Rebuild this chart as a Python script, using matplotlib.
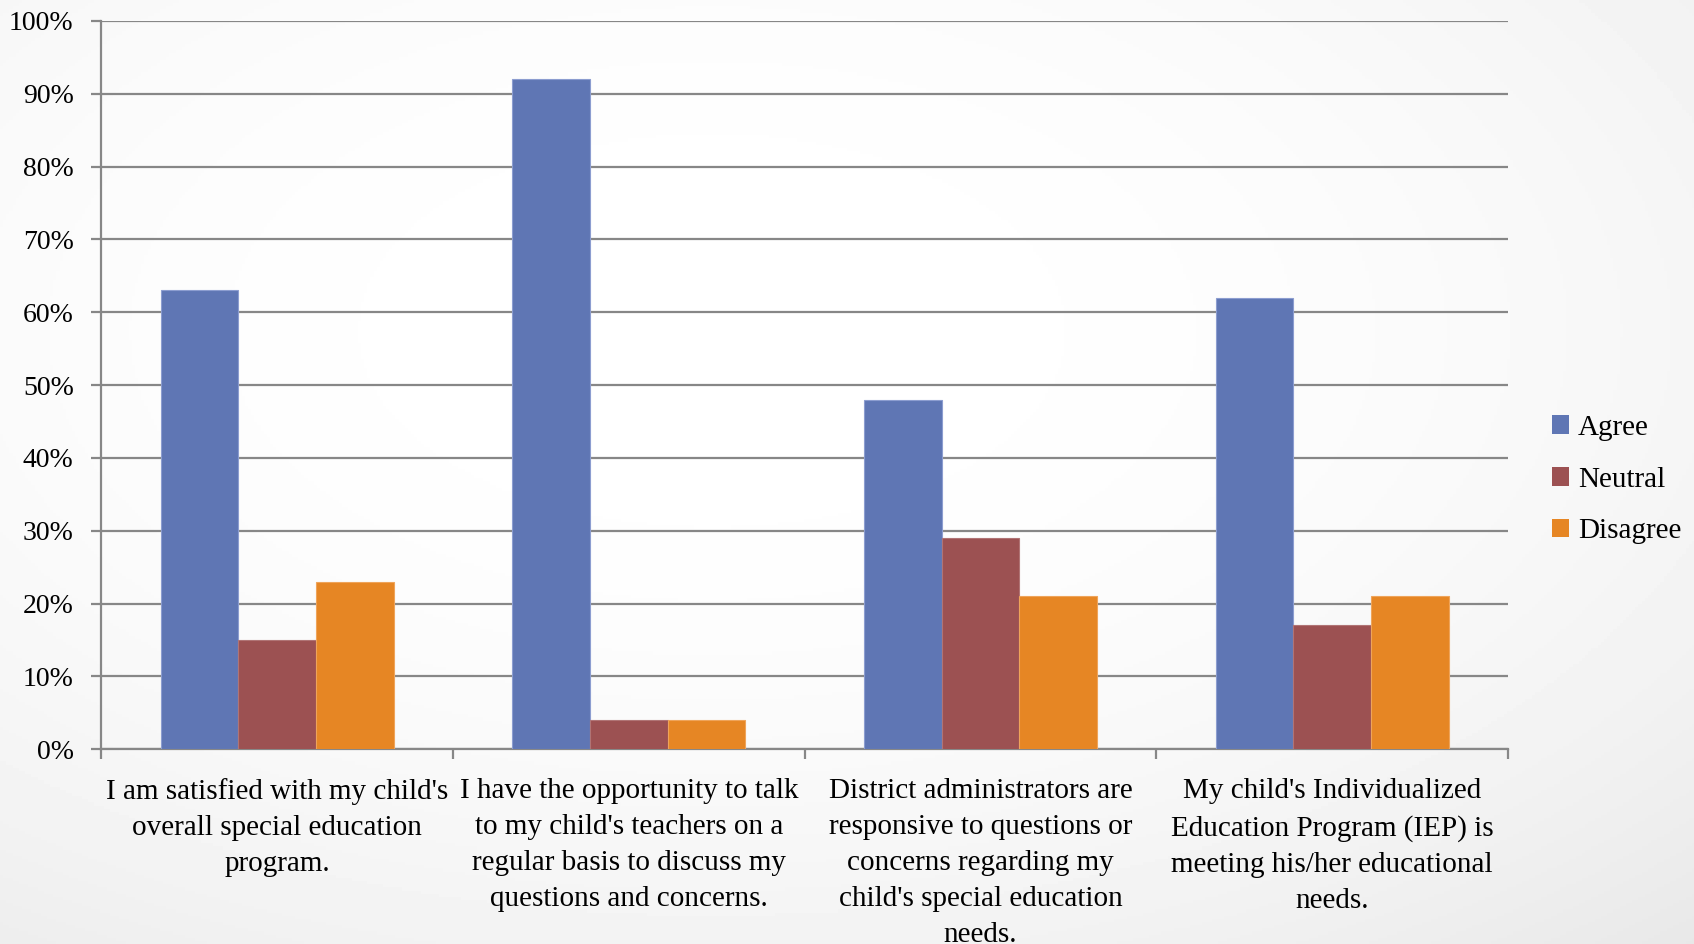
import numpy as np
import matplotlib.pyplot as plt
from matplotlib.patches import Patch

categories = [
    "I am satisfied with my child's\noverall special education\nprogram.",
    "I have the opportunity to talk\nto my child's teachers on a\nregular basis to discuss my\nquestions and concerns.",
    "District administrators are\nresponsive to questions or\nconcerns regarding my\nchild's special education\nneeds.",
    "My child's Individualized\nEducation Program (IEP) is\nmeeting his/her educational\nneeds.",
]
agree = [63, 92, 48, 62]
neutral = [15, 4, 29, 17]
disagree = [23, 4, 21, 21]
series_names = ["Agree", "Neutral", "Disagree"]
colors = ["#5F76B4", "#9C5152", "#E68624"]
edges = ["#8C9DD0", "#B07475", "#EFA45A"]

plt.rcParams['font.family'] = ['Liberation Serif', 'DejaVu Serif']
FS = 21

fig = plt.figure(figsize=(16.94, 9.44), dpi=100)

# soft radial grey background
bg = fig.add_axes([0, 0, 1, 1])
yy, xx = np.mgrid[0:1:300j, 0:1:540j]
r = np.sqrt(((xx - 0.42) / 0.8) ** 2 + ((yy - 0.35) / 0.8) ** 2)
shade = 1.0 - 0.075 * np.clip(r, 0, 1.3) ** 2.2
bg.imshow(shade, cmap='gray', vmin=0, vmax=1, aspect='auto', extent=[0, 1, 0, 1])
bg.axis('off')

ax = fig.add_axes([0.0599, 0.2063, 0.8303, 0.7715])
ax.patch.set_alpha(0)

x = np.arange(len(categories))
w = 0.221
for i, (vals, name) in enumerate(zip([agree, neutral, disagree], series_names)):
    ax.bar(x + (i - 1) * w, vals, w, color=colors[i], edgecolor=edges[i], linewidth=0.8, zorder=3)

ax.set_xlim(-0.5, len(categories) - 0.5)
ax.set_ylim(0, 100)
ax.set_yticks(np.arange(0, 101, 10))
ax.set_yticklabels([f"{v}%" for v in range(0, 101, 10)], fontsize=20)
ax.yaxis.grid(True, color='#878787', linewidth=1.6, zorder=1)
ax.set_axisbelow(True)

ax.set_xticks(np.arange(-0.5, len(categories), 1.0))
ax.set_xticklabels([])
ax.set_xticks(x, minor=True)
ax.set_xticklabels(categories, minor=True, fontsize=FS, linespacing=1.5)
ax.tick_params(axis='x', which='minor', length=0, pad=21)
ax.tick_params(axis='x', which='major', length=7, width=1.6, color='#878787')
ax.tick_params(axis='y', length=7, width=1.6, color='#878787', pad=13)

for s in ['top', 'right']:
    ax.spines[s].set_visible(False)
for s in ['left', 'bottom']:
    ax.spines[s].set_color('#878787')
    ax.spines[s].set_linewidth(1.6)

handles = [Patch(facecolor=c, edgecolor='none') for c in colors]
fig.legend(handles, series_names, loc='center left', bbox_to_anchor=(0.916, 0.492),
           frameon=False, fontsize=FS, borderpad=0, borderaxespad=0,
           handlelength=0.6, handleheight=0.6, handletextpad=0.3, labelspacing=0.88)

fig.savefig('out.png', dpi=100)
